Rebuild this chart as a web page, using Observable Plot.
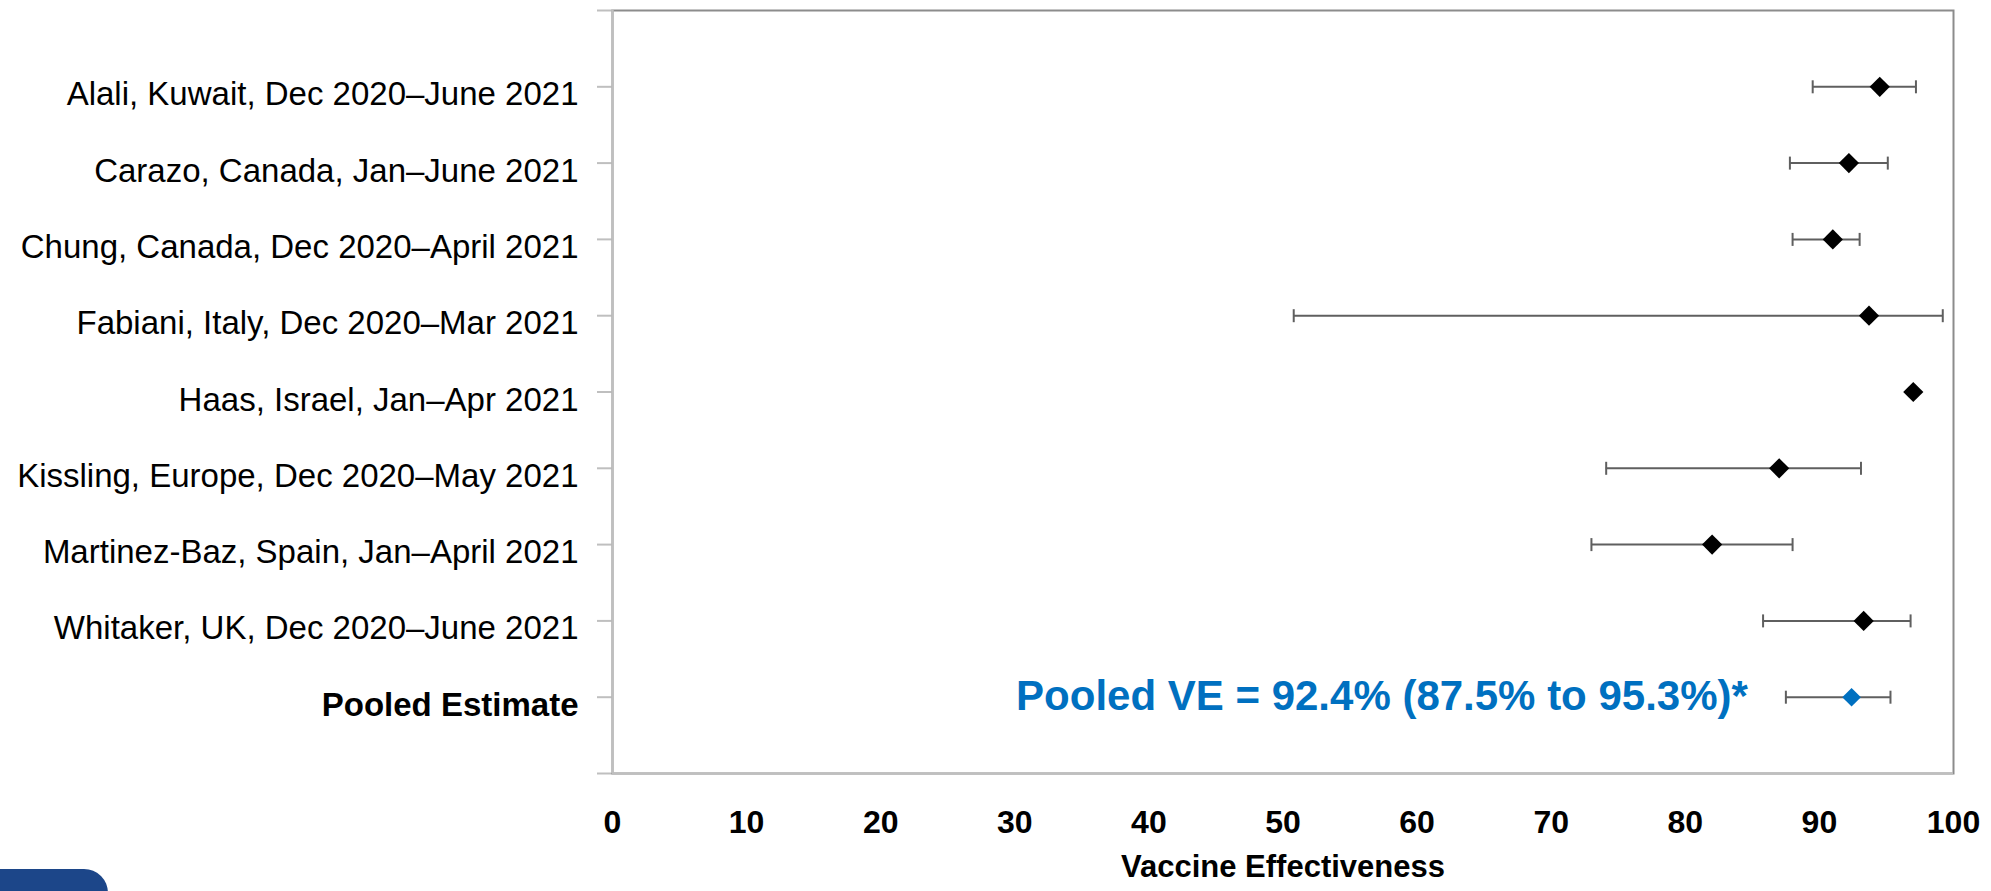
<!DOCTYPE html>
<html>
<head>
<meta charset="utf-8">
<script src="https://cdn.jsdelivr.net/npm/d3@7"></script>
<script src="https://cdn.jsdelivr.net/npm/@observablehq/plot@0.6"></script>
<style>
  html, body { margin: 0; padding: 0; background: #ffffff; overflow: hidden; }
  #chart { position: absolute; left: 0; top: 0; }
  #logo { position: absolute; left: 0; top: 869px; width: 108px; height: 30px;
          background: #1c4689; border-top-right-radius: 24px; }
</style>
</head>
<body>
<div id="chart"></div>
<div id="logo"></div>
<script>
// ---- data ----
const categories = [
  "Alali, Kuwait, Dec 2020–June 2021",
  "Carazo, Canada, Jan–June 2021",
  "Chung, Canada, Dec 2020–April 2021",
  "Fabiani, Italy, Dec 2020–Mar 2021",
  "Haas, Israel, Jan–Apr 2021",
  "Kissling, Europe, Dec 2020–May 2021",
  "Martinez-Baz, Spain, Jan–April 2021",
  "Whitaker, UK, Dec 2020–June 2021",
  "Pooled Estimate"
];
const ve     = [94.5, 92.2, 91.0, 93.7, 97.0, 87.0, 82.0, 93.3, 92.4];
const ciLow  = [89.5, 87.8, 88.0, 50.8, null, 74.1, 73.0, 85.8, 87.5];
const ciHigh = [97.2, 95.1, 93.0, 99.2, null, 93.1, 88.0, 96.8, 95.3];
const xTicks = [0, 10, 20, 30, 40, 50, 60, 70, 80, 90, 100];
const axisLabel = ["Vaccine Effectiveness"];

// ---- table built from arrays ----
const rows = categories.map((c, i) => ({
  cat: c, row: i + 1, ve: ve[i], lo: ciLow[i], hi: ciHigh[i],
  pooled: i === categories.length - 1
}));
const withCI = rows.filter(d => d.lo != null && d.hi != null);
const rowTicks = d3.range(0, categories.length + 2);

const vline = {
  draw(context, size) {
    const h = Math.sqrt(size / Math.PI);
    context.moveTo(0, -h);
    context.lineTo(0, h);
  }
};

const chart = Plot.plot({
  width: 1991,
  height: 891,
  marginLeft: 612,
  marginRight: 38,
  marginTop: 10,
  marginBottom: 118,
  style: { fontFamily: "'Liberation Sans', Arial, sans-serif", background: "white", color: "black" },
  x: { domain: [0, 100] },
  y: { domain: [0, categories.length + 1], reverse: true },
  marks: [
    Plot.axisY(rowTicks, { anchor: "left", tickSize: 15, tickFormat: () => "", stroke: "#bfbfbf", strokeWidth: 2, label: null }),
    Plot.axisY(rows.filter(d => !d.pooled).map(d => d.row), {
      anchor: "left", tickSize: 0, tickPadding: 34, tickFormat: i => categories[i - 1],
      fontSize: 33, fill: "black", dy: 8, label: null
    }),
    Plot.axisY(rows.filter(d => d.pooled).map(d => d.row), {
      anchor: "left", tickSize: 0, tickPadding: 34, tickFormat: i => categories[i - 1],
      fontSize: 33, fontWeight: "bold", fill: "black", dy: 8, label: null
    }),
    Plot.axisX(xTicks, { anchor: "bottom", tickSize: 0, tickPadding: 37, tickFormat: d => String(d),
      fontSize: 32, fontWeight: "bold", fill: "black", label: null }),
    Plot.frame({ stroke: "#8c8c8c", strokeWidth: 2 }),
    Plot.ruleX([0], { stroke: "#bfbfbf", strokeWidth: 2.5 }),
    Plot.ruleY([categories.length + 1], { stroke: "#bfbfbf", strokeWidth: 2.5 }),
    Plot.ruleY(withCI, { y: "row", x1: "lo", x2: "hi", stroke: "#5f5f5f", strokeWidth: 2 }),
    Plot.dot(withCI, { x: "lo", y: "row", symbol: vline, r: 6.5, stroke: "#5f5f5f", strokeWidth: 2, fill: "none" }),
    Plot.dot(withCI, { x: "hi", y: "row", symbol: vline, r: 6.5, stroke: "#5f5f5f", strokeWidth: 2, fill: "none" }),
    Plot.dot(rows.filter(d => !d.pooled), { x: "ve", y: "row", symbol: "diamond2", r: 9.1, fill: "black", stroke: "none" }),
    Plot.dot(rows.filter(d => d.pooled), { x: "ve", y: "row", symbol: "diamond2", r: 8.4, fill: "#0070c0", stroke: "none" }),
    Plot.text(rows.filter(d => d.pooled), {
      x: "lo", y: "row", text: d => `Pooled VE = ${d.ve}% (${d.lo}% to ${d.hi}%)*`,
      textAnchor: "end", dx: -38, dy: -1, fontSize: 42, fontWeight: "bold", fill: "#0070c0"
    }),
    Plot.text(axisLabel, { frameAnchor: "bottom", text: d => d, dy: 103, fontSize: 31, fontWeight: "bold", fill: "black" })
  ]
});
document.getElementById("chart").appendChild(chart);
</script>
</body>
</html>
